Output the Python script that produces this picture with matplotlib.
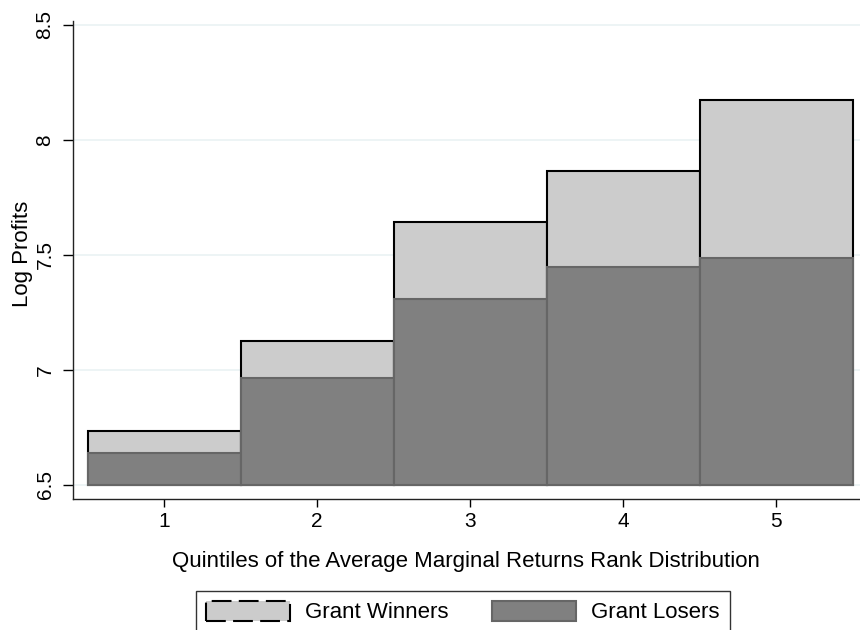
import matplotlib
matplotlib.use("Agg")
import matplotlib.pyplot as plt
from matplotlib.patches import Patch

plt.rcParams['font.family'] = ['Liberation Sans', 'DejaVu Sans']

# Quintiles and mean log profits
quintiles = [1, 2, 3, 4, 5]
winners = [6.732, 7.126, 7.643, 7.865, 8.174]
losers = [6.640, 6.965, 7.309, 7.448, 7.487]
base = 6.5
yticks = [6.5, 7, 7.5, 8, 8.5]
ytick_labels = ['6.5', '7', '7.5', '8', '8.5']

fig = plt.figure(figsize=(8.6, 6.3), dpi=100)
ax = fig.add_axes([0.0845, 0.2079, 0.9155, 0.7588])

ax.bar(quintiles, [w - base for w in winners], bottom=base, width=1.0,
       color='#cccccc', edgecolor='black', linewidth=1.5, zorder=2)
ax.bar(quintiles, [l - base for l in losers], bottom=base, width=1.0,
       color='#808080', edgecolor='#666666', linewidth=1.5, zorder=3)

# faint Stata-style gridlines
for y in yticks:
    ax.axhline(y, color='#eaf2f3', linewidth=1.2, zorder=1)

ax.set_xlim(0.401, 5.549)
ax.set_ylim(6.438, 8.517)
ax.set_xticks(quintiles)
ax.set_yticks(yticks)
ax.set_yticklabels(ytick_labels, rotation=90, va='center')
ax.tick_params(axis='x', direction='out', length=6, width=1, labelsize=15, pad=3.5)
ax.tick_params(axis='y', direction='out', length=7, width=1, labelsize=15, pad=6)

for s in ['top', 'right']:
    ax.spines[s].set_visible(False)
for s in ['left', 'bottom']:
    ax.spines[s].set_color('#222222')
    ax.spines[s].set_linewidth(1.0)

ax.set_xlabel('Quintiles of the Average Marginal Returns Rank Distribution', fontsize=16, labelpad=14)
ax.set_ylabel('Log Profits', fontsize=16)
ax.yaxis.set_label_coords(-0.051, 0.513)

handles = [Patch(facecolor='#cccccc', edgecolor='black', linestyle=(0, (9.5, 3.5)), linewidth=1.5,
                 label='Grant Winners'),
           Patch(facecolor='#808080', edgecolor='#666666', linewidth=1.5, label='Grant Losers')]
leg = fig.legend(handles=handles, loc='upper left', bbox_to_anchor=(0.2279, 0.0624), ncol=2,
                 fontsize=16, frameon=True, fancybox=False, edgecolor='black',
                 handlelength=3.78, handleheight=1.02, handletextpad=0.68, columnspacing=1.95,
                 borderpad=0.45, borderaxespad=0)
leg.get_frame().set_linewidth(1.0)

fig.savefig('out.png', dpi=100)
